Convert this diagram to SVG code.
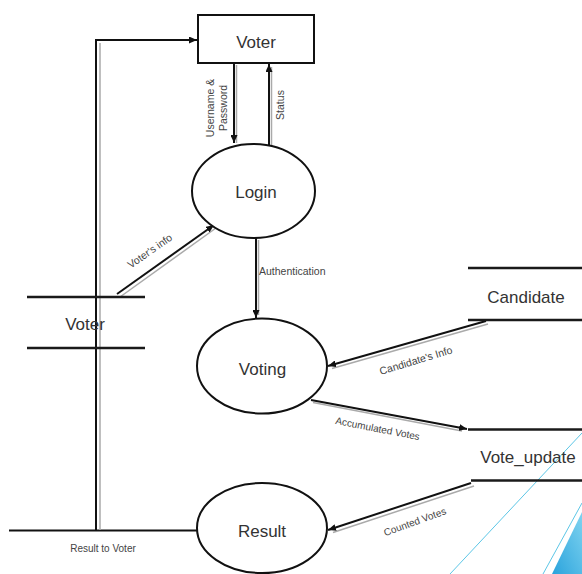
<svg xmlns="http://www.w3.org/2000/svg" width="582" height="574" viewBox="0 0 582 574">
<style>
.bg{fill:#ffffff}
.node{fill:#ffffff;stroke:#111;stroke-width:2}
.store{stroke:#1a1a1a;stroke-width:2.5;fill:none}
.big{font-family:"Liberation Sans",Arial,sans-serif;font-size:17px;fill:#333;text-anchor:middle}
.small{font-family:"Liberation Sans",Arial,sans-serif;font-size:10.5px;fill:#444;text-anchor:middle}
.flow{stroke:#111;stroke-width:2;fill:none}
.shadow{stroke:#aaa;stroke-width:1.5;fill:none}
.deco{stroke:#5cc6e6;stroke-width:1;fill:none}
</style>
<defs>
<marker id="arr" markerUnits="userSpaceOnUse" markerWidth="8" markerHeight="7" refX="8" refY="3.5" orient="auto">
<path d="M0,0 L8,3.5 L0,7 z" fill="#111"/>
</marker>
<linearGradient id="blue" x1="0" y1="1" x2="1" y2="0">
<stop offset="0" stop-color="#2aa3dc"/>
<stop offset="1" stop-color="#7fd3f0"/>
</linearGradient>
</defs>
<rect class="bg" x="0" y="0" width="582" height="574"/>

<g id="decoration">
<line class="deco" x1="450" y1="574" x2="582" y2="433"/>
<line class="deco" x1="543" y1="574" x2="582" y2="503"/>
<polygon points="552,574 582,512 582,574" fill="url(#blue)"/>
</g>

<g id="connectors">
<!-- Username & Password -->
<line class="shadow" x1="236.5" y1="65" x2="236.5" y2="143"/>
<line class="flow" x1="234" y1="63" x2="234" y2="143" marker-end="url(#arr)"/>
<!-- Status -->
<line class="shadow" x1="271.5" y1="145" x2="271.5" y2="67"/>
<line class="flow" x1="269" y1="145" x2="269" y2="64" marker-end="url(#arr)"/>
<!-- Voter's info -->
<line class="shadow" x1="120" y1="297" x2="216" y2="228"/>
<line class="flow" x1="117" y1="294" x2="214" y2="225" marker-end="url(#arr)"/>
<!-- Authentication -->
<line class="shadow" x1="258.5" y1="240" x2="258.5" y2="315"/>
<line class="flow" x1="256" y1="238" x2="256" y2="318" marker-end="url(#arr)"/>
<!-- Candidate's Info -->
<line class="shadow" x1="488" y1="324" x2="332" y2="368.5"/>
<line class="flow" x1="486" y1="321" x2="328" y2="366" marker-end="url(#arr)"/>
<!-- Accumulated Votes -->
<line class="shadow" x1="313" y1="402.5" x2="462" y2="431"/>
<line class="flow" x1="311" y1="400" x2="467" y2="429" marker-end="url(#arr)"/>
<!-- Counted Votes -->
<line class="shadow" x1="474" y1="486" x2="333" y2="532.5"/>
<line class="flow" x1="471" y1="483" x2="328" y2="530" marker-end="url(#arr)"/>
<!-- Result to Voter -->
<line class="flow" x1="9" y1="530.5" x2="197" y2="530.5"/>
<line class="shadow" x1="100" y1="43" x2="100" y2="530"/>
<polyline class="flow" points="96,530.5 96,40 197,40" marker-end="url(#arr)"/>
</g>

<g id="labels">
<text class="small" transform="translate(214,108) rotate(-90)">Username &amp;</text>
<text class="small" transform="translate(227,108) rotate(-90)">Password</text>
<text class="small" transform="translate(284,105) rotate(-90)">Status</text>
<text class="small" transform="translate(152,254) rotate(-35)">Voter's info</text>
<text class="small" x="259" y="275" style="text-anchor:start">Authentication</text>
<text class="small" transform="translate(417,364) rotate(-17)">Candidate's Info</text>
<text class="small" transform="translate(377,432) rotate(11)" style="font-size:10px">Accumulated Votes</text>
<text class="small" transform="translate(416,525) rotate(-20)" style="font-size:10px">Counted Votes</text>
<text class="small" x="103" y="552" style="font-size:10px">Result to Voter</text>
</g>

<g id="voter_entity">
<rect class="node" x="198" y="15" width="116" height="48"/>
<text class="big" x="256" y="48">Voter</text>
</g>

<g id="login">
<ellipse class="node" cx="253.5" cy="191" rx="61.5" ry="47"/>
<text class="big" x="256" y="198">Login</text>
</g>

<g id="voting">
<ellipse class="node" cx="262" cy="366" rx="65" ry="47.5"/>
<text class="big" x="262.5" y="375">Voting</text>
</g>

<g id="result">
<ellipse class="node" cx="262" cy="528" rx="65" ry="45"/>
<text class="big" x="262" y="537">Result</text>
</g>

<g id="voter_store">
<line class="store" x1="27" y1="297" x2="145" y2="297"/>
<line class="store" x1="27" y1="348" x2="145" y2="348"/>
<text class="big" x="85" y="330">Voter</text>
</g>

<g id="candidate_store">
<line class="store" x1="468" y1="268" x2="582" y2="268"/>
<line class="store" x1="468" y1="320" x2="582" y2="320"/>
<text class="big" x="526" y="303">Candidate</text>
</g>

<g id="vote_update_store">
<line class="store" x1="468" y1="429.5" x2="582" y2="429.5"/>
<line class="store" x1="471" y1="480.5" x2="582" y2="480.5"/>
<text class="big" x="528" y="463">Vote_update</text>
</g>
</svg>
